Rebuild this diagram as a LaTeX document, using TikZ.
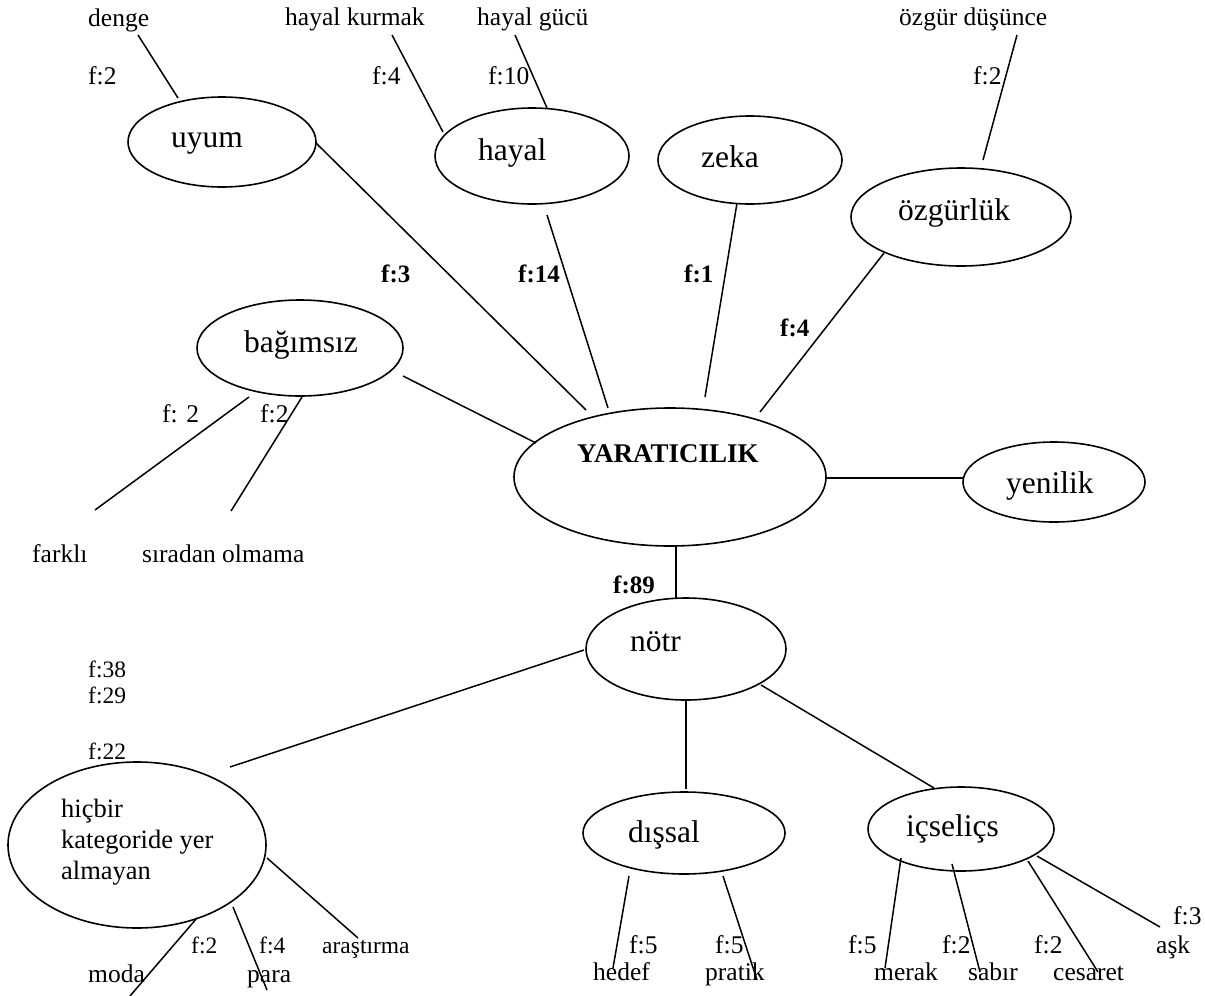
\documentclass[tikz,border=0pt]{standalone}
\usepackage{fontspec}
\setmainfont{Liberation Serif}
\usetikzlibrary{shapes.geometric}
\tikzset{
  ell/.style={draw, ellipse, line width=1.6pt, inner sep=0pt},
  conn/.style={line width=1.5pt},
  txt/.style={anchor=base west, inner sep=0pt, font=\fontsize{25.5}{30}\selectfont},
  txts/.style={anchor=base west, inner sep=0pt, font=\fontsize{23.5}{28}\selectfont},
  etxt/.style={anchor=base west, inner sep=0pt, font=\fontsize{31.5}{36}\selectfont},
  htxt/.style={anchor=base west, inner sep=0pt, font=\fontsize{26.5}{31}\selectfont},
  btxt/.style={anchor=base west, inner sep=0pt, font=\fontsize{25}{30}\selectfont\bfseries},
}
\newcommand{\ellnode}[6]{\node[ell, minimum width=#4pt, minimum height=#5pt] (#1) at (#2,#3) {#6};}
\begin{document}
\begin{tikzpicture}[x=1pt,y=-1pt]
\useasboundingbox[fill=white] (0,0) rectangle (1205,996);
% ellipses
\ellnode{uyum}{222}{142}{188}{90}{}
\ellnode{hayal}{532}{156}{194}{96}{}
\ellnode{zeka}{750}{160}{184}{88}{}
\ellnode{ozgurluk}{961}{217}{220}{98}{}
\ellnode{bagimsiz}{300}{348}{206}{96}{}
\ellnode{yar}{670}{477}{312}{138}{}
\ellnode{yenilik}{1054}{482}{182}{80}{}
\ellnode{notr}{686}{649}{200}{102}{}
\ellnode{hicbir}{137}{845}{258}{166}{}
\ellnode{dissal}{684}{833}{202}{82}{}
\ellnode{icselic}{961}{829}{186}{84}{}
% ellipse texts
\node[etxt] (t-uyum) at (171,147) {uyum};
\node[etxt] (t-hayal) at (478,160) {hayal};
\node[etxt] (t-zeka) at (701,167) {zeka};
\node[etxt] (t-ozgurluk) at (898,220) {özgürlük};
\node[etxt] (t-bagimsiz) at (244,352) {bağımsız};
\node[anchor=base west, inner sep=0pt, font=\fontsize{27}{32}\selectfont\bfseries] (t-yar) at (577,462) {YARATICILIK};
\node[etxt] (t-yenilik) at (1006,493) {yenilik};
\node[etxt] (t-notr) at (630,651) {nötr};
\node[etxt] (t-dissal) at (628,842) {dışsal};
\node[etxt] (t-icselic) at (906,836) {içseliçs};
\node[htxt] (t-h1) at (61,817) {hiçbir};
\node[htxt] (t-h2) at (61,848) {kategoride yer};
\node[htxt] (t-h3) at (61,879) {almayan};
% labels top
\node[txt] (l-denge) at (88,26) {denge};
\node[txt] (l-hk) at (285,25) {hayal kurmak};
\node[txt] (l-hg) at (477,25) {hayal gücü};
\node[txt] (l-od) at (899,25) {özgür düşünce};
\node[txt] (f-denge) at (88,84) {f:2};
\node[txt] (f-hk) at (372,84) {f:4};
\node[txt] (f-hg) at (488,84) {f:10};
\node[txt] (f-od) at (973,84) {f:2};
% bold labels
\node[btxt] (b-uyum) at (381,282) {f:3};
\node[btxt] (b-hayal) at (518,282) {f:14};
\node[btxt] (b-zeka) at (684,282) {f:1};
\node[btxt] (b-ozg) at (780,336) {f:4};
\node[btxt] (b-notr) at (613,593) {f:89};
% bagimsiz labels
\node[txt] (f-farkli) at (162,422) {f: 2};
\node[txt] (f-siradan) at (260,422) {f:2};
\node[txt] (l-farkli) at (32,562) {farklı};
\node[txt] (l-siradan) at (142,562) {sıradan olmama};
% hicbir labels
\node[txts] (f-38) at (88,677) {f:38};
\node[txts] (f-29) at (88,703) {f:29};
\node[txts] (f-22) at (88,759) {f:22};
\node[txts] (f-moda) at (191,953) {f:2};
\node[txts] (f-para) at (259,953) {f:4};
\node[txts] (l-arastirma) at (322,953) {araştırma};
\node[txt] (l-moda) at (88,982) {moda};
\node[txt] (l-para) at (247,982) {para};
% dissal labels
\node[txt] (f-hedef) at (629,953) {f:5};
\node[txt] (f-pratik) at (715,953) {f:5};
\node[txt] (l-hedef) at (593,980) {hedef};
\node[txt] (l-pratik) at (705,980) {pratik};
% icselic labels
\node[txt] (f-merak) at (848,953) {f:5};
\node[txt] (f-sabir) at (942,953) {f:2};
\node[txt] (f-cesaret) at (1034,953) {f:2};
\node[txt] (f-ask) at (1173,924) {f:3};
\node[txt] (l-ask) at (1156,953) {aşk};
\node[txt] (l-merak) at (874,980) {merak};
\node[txt] (l-sabir) at (968,980) {sabır};
\node[txt] (l-cesaret) at (1053,980) {cesaret};
% connector end points
\coordinate (c1a) at (138,35);  \coordinate (c1b) at (178,98);
\coordinate (c2a) at (392,35);  \coordinate (c2b) at (443,132);
\coordinate (c3a) at (515,35);  \coordinate (c3b) at (547,108);
\coordinate (c4a) at (316,143); \coordinate (c4b) at (586,410);
\coordinate (c5a) at (547,215); \coordinate (c5b) at (608,408);
\coordinate (c6a) at (737,203); \coordinate (c6b) at (705,397);
\coordinate (c7a) at (884,253); \coordinate (c7b) at (760,412);
\coordinate (c8a) at (1017,35); \coordinate (c8b) at (983,160);
\coordinate (c9a) at (403,376); \coordinate (c9b) at (536,443);
\coordinate (c10a) at (249,397); \coordinate (c10b) at (95,510);
\coordinate (c11a) at (302,397); \coordinate (c11b) at (231,511);
\coordinate (c12a) at (826,478); \coordinate (c12b) at (964,478);
\coordinate (c13a) at (676,546); \coordinate (c13b) at (676,598);
\coordinate (c14a) at (584,650); \coordinate (c14b) at (230,767);
\coordinate (c15a) at (686,700); \coordinate (c15b) at (686,789);
\coordinate (c16a) at (761,685); \coordinate (c16b) at (934,788);
\coordinate (c17a) at (267,858); \coordinate (c17b) at (358,938);
\coordinate (c18a) at (197,918); \coordinate (c18b) at (130,996);
\coordinate (c19a) at (233,907); \coordinate (c19b) at (267,990);
\coordinate (c20a) at (629,876); \coordinate (c20b) at (613,968);
\coordinate (c21a) at (723,876); \coordinate (c21b) at (757,980);
\coordinate (c22a) at (901,858); \coordinate (c22b) at (885,968);
\coordinate (c23a) at (952,864); \coordinate (c23b) at (980,972);
\coordinate (c24a) at (1028,861); \coordinate (c24b) at (1098,972);
\coordinate (c25a) at (1037,856); \coordinate (c25b) at (1160,927);
\foreach \i in {1,...,25} { \draw[conn] (c\i a) -- (c\i b); }
\end{tikzpicture}
\end{document}
